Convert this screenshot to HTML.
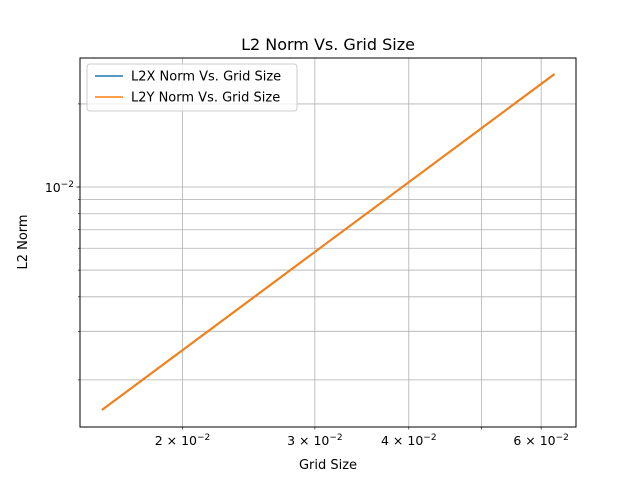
<!DOCTYPE html>
<html><head><meta charset="utf-8"><style>
body{margin:0;background:#fff;}
svg{display:block;font-family:"DejaVu Sans","Liberation Sans",sans-serif;}
</style></head><body>
<svg id="chart" width="640" height="480">
<rect width="640" height="480" fill="#fff"/>
<text x="328" y="50" font-size="16" text-anchor="middle">L2 Norm Vs. Grid Size</text>
<g id="grid"></g>
<g id="series"></g>
<rect x="80" y="58" width="496" height="369" fill="none" stroke="#000" stroke-width="1"/>
<g id="ticks" font-size="12"></g>
<text x="328" y="469" font-size="13" text-anchor="middle">Grid Size</text>
<text x="27" y="242" font-size="13" text-anchor="middle" transform="rotate(-90 27 242)">L2 Norm</text>
<g>
<rect x="87" y="64" width="210" height="47" rx="3" fill="#fff" fill-opacity="0.8" stroke="#ccc"/>
<line x1="95" y1="76" x2="123" y2="76" stroke="#1f77b4" stroke-width="1.5"/>
<text x="131" y="80.5" font-size="13">L2X Norm Vs. Grid Size</text>
<line x1="95" y1="97" x2="123" y2="97" stroke="#ff7f0e" stroke-width="1.5"/>
<text x="131" y="101.5" font-size="13">L2Y Norm Vs. Grid Size</text>
</g>
</svg>
<script>
const gridSizes=[0.015625,0.03125,0.0625];
const l2x=[0.001556,0.00632,0.02566];
const l2y=[0.001556,0.00632,0.02566];
const xTickVals=[0.02,0.03,0.04,0.05,0.06];
const xTickLabels=["2","3","4","","6"];
const yTickVals=[0.002,0.003,0.004,0.005,0.006,0.007,0.008,0.009,0.01,0.02];
const NS="http://www.w3.org/2000/svg";
const x0=80,x1=576,y0=427,y1=58;
const xmin=Math.log10(0.01461),xmax=Math.log10(0.06676);
const ymin=Math.log10(0.00135),ymax=Math.log10(0.02934);
function sx(v){return x0+(Math.log10(v)-xmin)/(xmax-xmin)*(x1-x0);}
function sy(v){return y0-(Math.log10(v)-ymin)/(ymax-ymin)*(y0-y1);}
function mk(t,a,p){const e=document.createElementNS(NS,t);for(const k in a)e.setAttribute(k,a[k]);p.appendChild(e);return e;}
const grid=document.getElementById('grid'),ticks=document.getElementById('ticks'),series=document.getElementById('series');
xTickVals.forEach((v,i)=>{const x=sx(v);
 const g=mk('line',{x1:x,x2:x,y1:y1,y2:y0,stroke:'#b0b0b0','stroke-width':0.8},grid);
 
 
 mk('line',{x1:x,x2:x,y1:y0,y2:y0+2.5,stroke:'#000','stroke-width':0.6},ticks);
 if(xTickLabels[i]){const t=mk('text',{x:x,y:y0+18,'text-anchor':'middle','font-size':12.5},ticks);
  
  
  t.innerHTML=xTickLabels[i]+' \u00d7 10<tspan dy="-5" font-size="9">\u22122</tspan>';}
});
yTickVals.forEach(v=>{const y=sy(v);
 const g=mk('line',{x1:x0,x2:x1,y1:y,y2:y,stroke:'#b0b0b0','stroke-width':0.8},grid);
 
 
 const major=Math.abs(v-0.01)<1e-9;
 mk('line',{x1:x0-(major?3.5:2),x2:x0,y1:y,y2:y,stroke:'#000','stroke-width':major?0.8:0.6},ticks);
 if(major){const t=mk('text',{x:x0-6,y:y+5,'text-anchor':'end','font-size':12.5},ticks);
  
  
  t.innerHTML='10<tspan dy="-5" font-size="9">\u22122</tspan>';}
});
function draw(vals,color,name){const pts=gridSizes.map((g,i)=>sx(g)+','+sy(vals[i])).join(' ');
 const p=mk('polyline',{points:pts,fill:'none',stroke:color,'stroke-width':2},series);
 
 }
draw(l2x,'#1f77b4','l2x-line');
draw(l2y,'#ff7f0e','l2y-line');
</script>
</body></html>
